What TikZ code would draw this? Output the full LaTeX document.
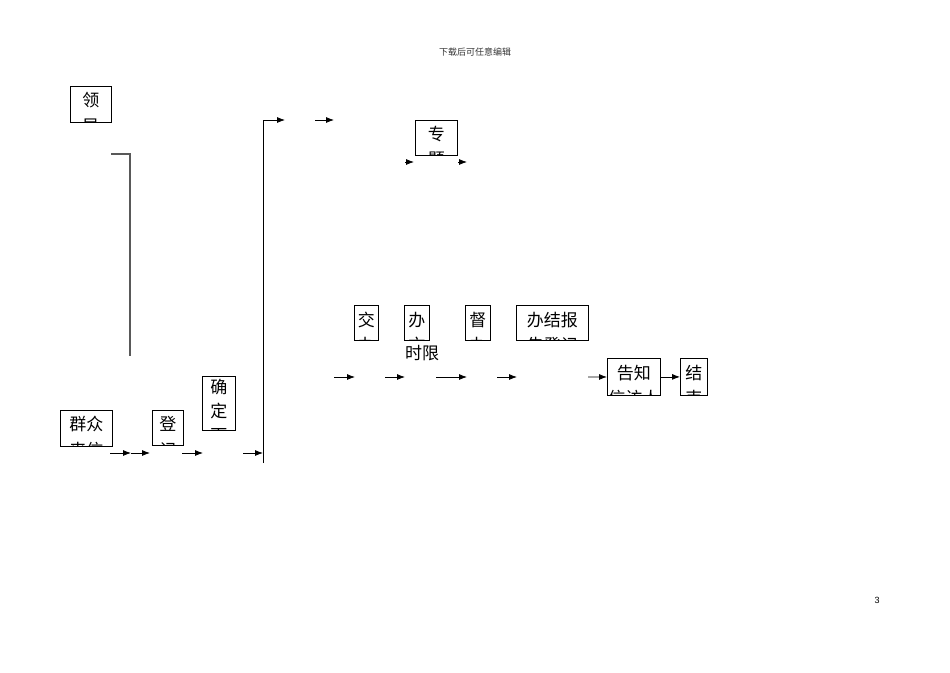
\documentclass[tikz,border=0pt]{standalone}
\usepackage{fontspec}
\setsansfont{Liberation Sans}
\newfontfamily\cjk{Noto Sans CJK SC}
\usetikzlibrary{arrows.meta}
\tikzstyle{block} = [rectangle, draw, line width=0.8pt, inner sep=0pt, anchor=north west]
\tikzstyle{line} = [draw, line width=0.8pt, -{Latex[length=8pt,width=6pt]}]
\newcommand{\cuttext}[3][25.5]{\node[anchor=north, align=center, inner sep=0pt,
    font=\cjk\fontsize{17}{#1}\selectfont] at ([yshift=-#2pt]path picture bounding box.north) {#3};}

\begin{document}
\begin{tikzpicture}[x=1pt, y=-1pt]
    \useasboundingbox (0,0) rectangle (950,672);
    % Header and page number
    \node [font=\cjk\fontsize{9}{10}\selectfont, text=black!80] (header) at (475,52) {下载后可任意编辑};
    \node [font=\sffamily\fontsize{9}{10}\selectfont] (pagenum) at (877,600) {3};
    % Place nodes
    \node [block, minimum width=41pt, minimum height=36pt, path picture={\cuttext{5.5}{领\\导}}] (lingdao) at (70,86) {};
    \node [block, minimum width=52pt, minimum height=36pt, path picture={\cuttext{5.5}{群众\\来信}}] (qunzhong) at (60,410) {};
    \node [block, minimum width=31pt, minimum height=35pt, path picture={\cuttext{5.5}{登\\记}}] (dengji) at (152,410) {};
    \node [block, minimum width=33pt, minimum height=54pt, path picture={\cuttext[24]{2.5}{确\\定\\下}}] (queding) at (202,376) {};
    \node [block, minimum width=42pt, minimum height=35pt, path picture={\cuttext{5}{专\\题}}] (zhuanti) at (415,120) {};
    \node [block, minimum width=24pt, minimum height=35pt, path picture={\cuttext{6}{交\\办}}] (jiaoban) at (354,305) {};
    \node [block, minimum width=25pt, minimum height=35pt, path picture={\cuttext{6}{办\\文}}] (banwen) at (404,305) {};
    \node [font=\cjk\fontsize{17}{20}\selectfont] (shixian) at (422,353) {时限};
    \node [block, minimum width=25pt, minimum height=35pt, path picture={\cuttext{6}{督\\办}}] (duban) at (465,305) {};
    \node [block, minimum width=72pt, minimum height=35pt, path picture={\cuttext{6}{办结报\\告登记}}] (banjie) at (516,305) {};
    \node [block, minimum width=53pt, minimum height=37pt, path picture={\cuttext{6}{告知\\信访人}}] (gaozhi) at (607,358) {};
    \node [block, minimum width=27pt, minimum height=37pt, path picture={\cuttext{6}{结\\束}}] (jieshu) at (680,358) {};
    % Draw edges
    \coordinate (b1) at (111,154);
    \coordinate (b2) at (130,154);
    \coordinate (b3) at (130,356);
    \draw [black!65, line width=1.5pt] (b1) -- (b2) -- (b3);
    \coordinate (vbot) at (263,463);
    \coordinate (vtop) at (263,120);
    \coordinate (vend) at (285,120);
    \draw [line] (vbot) -- (vtop) -- (vend);
    \foreach \i/\xa/\xb/\y in {1/110/131/453, 2/131/150/453, 3/182/203/453, 4/243/263/453,
        5/315/334/120, 6/405/414/162, 7/458/467/162, 8/334/355/377, 9/385/405/377,
        10/436/467/377, 11/497/517/377} {
        \coordinate (s\i) at (\xa,\y);
        \coordinate (e\i) at (\xb,\y);
        \path [line] (s\i) -- (e\i);
    }
    \coordinate (s12) at (588,377);
    \path [line] (s12) -- (gaozhi);
    \path [line] (gaozhi) -- (jieshu);
\end{tikzpicture}
\end{document}
